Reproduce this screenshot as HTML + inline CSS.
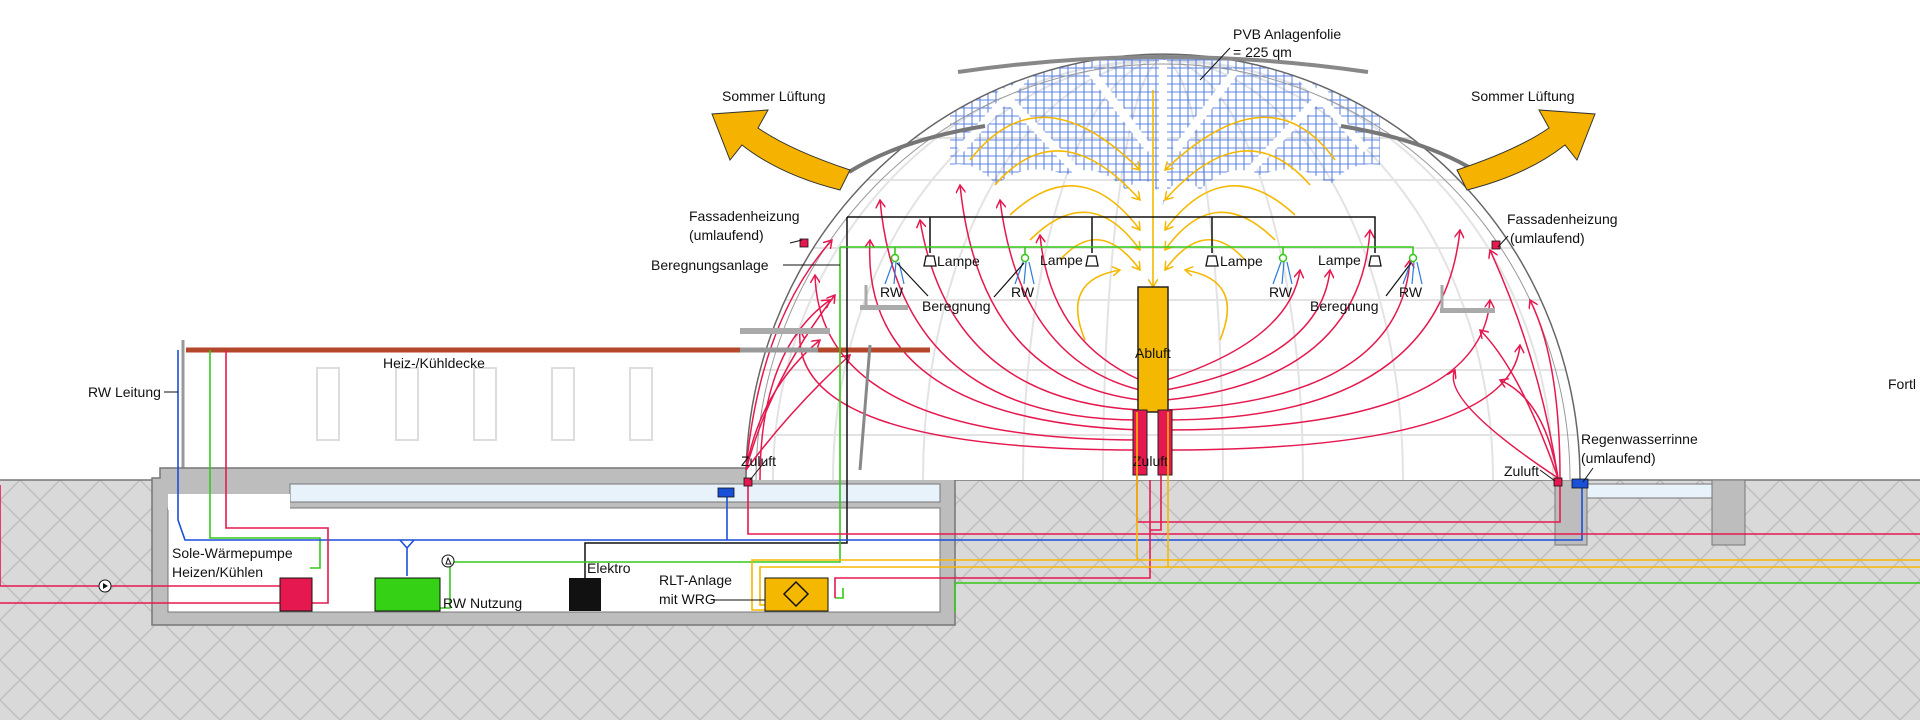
<!DOCTYPE html>
<html><head><meta charset="utf-8"><style>
html,body{margin:0;padding:0;background:#fff;width:1920px;height:720px;overflow:hidden}
svg{display:block;overflow:hidden}
text{font-family:"Liberation Sans",sans-serif;font-size:14px;fill:#111}
</style></head><body>
<svg width="1920" height="720" viewBox="0 0 1920 720" xmlns="http://www.w3.org/2000/svg">
<defs>
<pattern id="hatch" width="40" height="40" patternUnits="userSpaceOnUse">
<rect width="40" height="40" fill="#d9d9d9"/>
<path d="M0 20 L20 0 M20 40 L40 20 M0 20 L20 40 M20 0 L40 20" stroke="#bdbdbd" stroke-width="1.3" fill="none"/>
</pattern>
<pattern id="grid" width="8" height="8" patternUnits="userSpaceOnUse">
<path d="M0 4H8M4 0V8" stroke="#2a5bd8" stroke-width="1.1"/>
</pattern>
<marker id="ar" markerWidth="10" markerHeight="10" refX="8" refY="5" orient="auto" markerUnits="userSpaceOnUse"><path d="M0 0L8 5L0 10" fill="none" stroke="#e5194f" stroke-width="1.5"/></marker>
<marker id="ay" markerWidth="10" markerHeight="10" refX="8" refY="5" orient="auto" markerUnits="userSpaceOnUse"><path d="M0 0L8 5L0 10" fill="none" stroke="#f5b800" stroke-width="1.5"/></marker>
<clipPath id="domeclip"><path d="M746 480 A417 426 0 0 1 1580 480 Z"/></clipPath>
</defs>

<rect x="0" y="480" width="1920" height="240" fill="url(#hatch)"/>
<line x1="0" y1="480" x2="1920" y2="480" stroke="#777" stroke-width="1.5"/>

<rect x="183" y="342" width="747" height="126" fill="#fff"/>
<line x1="183" y1="340" x2="183" y2="470" stroke="#999" stroke-width="3"/>
<g fill="none" stroke="#ddd" stroke-width="2">
<rect x="317" y="368" width="22" height="72"/><rect x="396" y="368" width="22" height="72"/>
<rect x="474" y="368" width="22" height="72"/><rect x="552" y="368" width="22" height="72"/>
<rect x="630" y="368" width="22" height="72"/>
</g>

<path d="M152 478 H160 V468 H940 V478 H955 V625 H152 Z" fill="#bdbdbd" stroke="#777" stroke-width="1.5"/>
<rect x="168" y="494" width="122" height="14" fill="#fff"/>
<rect x="290" y="484" width="650" height="18" fill="#e8f2fb" stroke="#777"/>
<rect x="168" y="508" width="772" height="104" fill="#fff" stroke="#777"/>
<rect x="168" y="494" width="122" height="16" fill="#fff"/>

<rect x="1555" y="480" width="32" height="65" fill="#bdbdbd" stroke="#777"/>
<rect x="1587" y="484" width="125" height="14" fill="#e8f2fb" stroke="#777"/>
<rect x="1712" y="480" width="33" height="65" fill="#bdbdbd" stroke="#777"/>

<path d="M746 480 A417 426 0 0 1 1580 480 Z" fill="#fff"/>
<g clip-path="url(#domeclip)" fill="none" stroke="#e3e3e3" stroke-width="2">
<line x1="700" y1="138" x2="1660" y2="138"/><line x1="700" y1="180" x2="1660" y2="180"/>
<line x1="700" y1="248" x2="1660" y2="248"/><line x1="700" y1="300" x2="1660" y2="300"/>
<line x1="700" y1="370" x2="1660" y2="370"/><line x1="700" y1="435" x2="1660" y2="435"/>
<ellipse cx="1163" cy="480" rx="330" ry="420"/><ellipse cx="1163" cy="480" rx="240" ry="420"/>
<ellipse cx="1163" cy="480" rx="140" ry="420"/><ellipse cx="1163" cy="480" rx="60" ry="420"/>
<ellipse cx="1163" cy="480" rx="390" ry="420"/>
</g>
<g clip-path="url(#domeclip)">
<path d="M950 40 H1380 V165 Q1350 160 1330 185 Q1300 160 1260 175 Q1230 160 1200 190 Q1175 165 1163 205 Q1150 165 1126 190 Q1096 160 1066 175 Q1026 160 996 185 Q976 160 950 165 Z" fill="url(#grid)" opacity="0.75"/>
<g stroke="#fff" stroke-width="8" fill="none">
<path d="M1000 90 L1080 175 M1090 70 L1150 150 M1326 90 L1246 175 M1236 70 L1176 150"/>
<path d="M1163 60 V200 M1040 60 L960 150 M1286 60 L1366 150"/>
</g>
</g>
<path d="M746 480 A417 426 0 0 1 1580 480" fill="none" stroke="#666" stroke-width="1.5"/>
<path d="M756 480 A407 416 0 0 1 1570 480" fill="none" stroke="#999" stroke-width="1"/>
<path d="M958 72 Q1163 42 1368 72" fill="none" stroke="#888" stroke-width="4"/>
<path d="M849 172 Q900 140 985 126" fill="none" stroke="#777" stroke-width="4"/>
<path d="M1341 126 Q1426 140 1477 172" fill="none" stroke="#777" stroke-width="4"/>

<path d="M850 170 Q790 150 758 128 L768 110 L712 114 L730 160 L742 145 Q780 175 840 190 Z" fill="#f5b300" stroke="#333" stroke-width="1"/>
<path d="M1457 170 Q1517 150 1549 128 L1539 110 L1595 114 L1577 160 L1565 145 Q1527 175 1467 190 Z" fill="#f5b300" stroke="#333" stroke-width="1"/>
<text x="722" y="101">Sommer Lüftung</text>
<text x="1471" y="101">Sommer Lüftung</text>

<g fill="none" stroke="#f5b800" stroke-width="1.6" marker-end="url(#ay)">
<path d="M1153 90 V287"/>
<path d="M970 160 Q1040 70 1140 170"/><path d="M1335 160 Q1270 70 1165 170"/>
<path d="M995 185 Q1060 110 1140 200"/><path d="M1310 185 Q1245 110 1165 200"/>
<path d="M1010 215 Q1080 150 1140 230"/><path d="M1295 215 Q1225 150 1165 230"/>
<path d="M1030 240 Q1090 180 1140 250"/><path d="M1275 240 Q1215 180 1165 250"/>
<path d="M1060 260 Q1100 215 1140 270"/><path d="M1245 260 Q1205 215 1165 270"/>
<path d="M1085 340 Q1060 280 1120 270"/><path d="M1220 340 Q1245 280 1185 270"/>
</g>

<g fill="none" stroke="#e5194f" stroke-width="1.5" marker-end="url(#ar)">
<path d="M746 470 Q760 320 832 240"/><path d="M746 470 Q770 380 835 295"/>
<path d="M746 470 Q790 410 850 355"/><path d="M746 470 Q760 390 820 340"/>
<path d="M760 480 Q760 350 830 300"/>
<path d="M1140 420 Q900 420 880 200"/><path d="M1140 430 Q860 420 870 240"/>
<path d="M1140 410 Q950 400 920 220"/><path d="M1140 400 Q980 380 960 185"/>
<path d="M1140 390 Q1020 360 1000 200"/><path d="M1140 380 Q1050 340 1040 235"/>
<path d="M1140 440 Q820 440 815 275"/><path d="M1140 450 Q790 450 800 330"/>
<path d="M1166 420 Q1440 420 1460 230"/><path d="M1166 430 Q1480 430 1490 300"/>
<path d="M1166 410 Q1400 400 1410 260"/><path d="M1166 400 Q1360 380 1370 230"/>
<path d="M1166 390 Q1320 360 1330 270"/><path d="M1166 380 Q1290 340 1300 270"/>
<path d="M1166 450 Q1510 450 1520 345"/>
<path d="M1558 478 Q1520 370 1480 330"/><path d="M1558 478 Q1545 400 1500 380"/>
<path d="M1558 478 Q1540 360 1490 250"/><path d="M1560 478 Q1560 360 1530 300"/>
<path d="M1558 478 Q1440 400 1455 370"/>
</g>

<line x1="186" y1="350" x2="930" y2="350" stroke="#b4462a" stroke-width="5"/>
<line x1="740" y1="350" x2="818" y2="350" stroke="#999" stroke-width="5"/>
<text x="383" y="368">Heiz-/Kühldecke</text>

<rect x="1138" y="287" width="30" height="125" fill="#f5b800" stroke="#222" stroke-width="1.5"/>
<rect x="1133" y="410" width="14" height="65" fill="#e5194f" stroke="#222"/>
<rect x="1158" y="410" width="14" height="65" fill="#e5194f" stroke="#222"/>
<text x="1135" y="358" font-size="13">Abluft</text>
<text x="1133" y="466" font-size="13">Zuluft</text>

<g fill="none" stroke="#111" stroke-width="1.5">
<path d="M847 217 H1375 V253"/>
<path d="M847 217 V543 H585 V582"/>
<path d="M930 217 V253"/><path d="M1092 217 V253"/><path d="M1212 217 V253"/>
</g>
<g fill="#fff" stroke="#111" stroke-width="1.3">
<path d="M926 256 h8 l2 10 h-12 z"/><path d="M1088 256 h8 l2 10 h-12 z"/>
<path d="M1208 256 h8 l2 10 h-12 z"/><path d="M1371 256 h8 l2 10 h-12 z"/>
</g>
<text x="937" y="266">Lampe</text><text x="1040" y="265">Lampe</text>
<text x="1220" y="266">Lampe</text><text x="1318" y="265">Lampe</text>

<g fill="none" stroke="#35c81a" stroke-width="1.6">
<path d="M840 247 H1413 V255"/><path d="M840 247 V562 H450 V608 H437"/>
<path d="M895 247 V255"/><path d="M1025 247 V255"/><path d="M1283 247 V255"/>
<path d="M210 350 V538 H320 V568 H310"/>
<path d="M955 612 V583 H1920"/><path d="M843 588 V598 H835"/>
</g>
<g fill="none" stroke="#2a7bd8" stroke-width="1.2">
<path d="M893 262 l-8 22 M896 262 l-2 22 M899 262 l5 22"/>
<path d="M1023 262 l-8 22 M1026 262 l-2 22 M1029 262 l5 22"/>
<path d="M1281 262 l-8 22 M1284 262 l-2 22 M1287 262 l5 22"/>
<path d="M1411 262 l-8 22 M1414 262 l-2 22 M1417 262 l5 22"/>
</g>
<g fill="#fff" stroke="#35c81a" stroke-width="1.5">
<circle cx="895" cy="258" r="3.5"/><circle cx="1025" cy="258" r="3.5"/><circle cx="1283" cy="258" r="3.5"/><circle cx="1413" cy="258" r="3.5"/>
</g>
<text x="880" y="297">RW</text><text x="1011" y="297">RW</text><text x="1269" y="297">RW</text><text x="1399" y="297">RW</text>
<text x="922" y="311">Beregnung</text><text x="1310" y="311">Beregnung</text>
<g stroke="#111" stroke-width="1.2"><path d="M897 263 L928 296"/><path d="M1024 263 L994 297"/><path d="M1411 263 L1386 296"/></g>

<rect x="740" y="328" width="90" height="6" fill="#aaa"/>
<rect x="1440" y="308" width="55" height="5" fill="#aaa"/>
<rect x="860" y="305" width="48" height="5" fill="#aaa"/>
<line x1="866" y1="285" x2="866" y2="310" stroke="#aaa" stroke-width="3"/>
<line x1="1442" y1="285" x2="1442" y2="310" stroke="#aaa" stroke-width="3"/>
<line x1="870" y1="345" x2="860" y2="470" stroke="#888" stroke-width="3"/>

<g fill="none" stroke="#1a4fd8" stroke-width="1.6">
<path d="M178 350 V520 L185 540 H1582 V482"/>
<path d="M400 540 L407 548 V576"/><path d="M414 540 L407 548"/>
<path d="M727 495 V540"/>
</g>
<rect x="718" y="488" width="16" height="9" fill="#1a4fd8" stroke="#111" stroke-width="0.8"/>
<rect x="1572" y="479" width="16" height="9" fill="#1a4fd8" stroke="#111" stroke-width="0.8"/>
<text x="88" y="397">RW Leitung</text><path d="M164 392 H178" stroke="#111"/>

<g fill="none" stroke="#e5194f" stroke-width="1.6">
<path d="M0 485 V586 H280"/><path d="M0 603 H280"/>
<path d="M226 350 V528 H328 V603 H310"/>
<path d="M748 485 V534 H1920"/>
<path d="M1137 475 V522 H1560 V480"/>
<path d="M1161 475 V530 H1150"/>
<path d="M835 598 V578 H1150 V480"/>
</g>
<rect x="744" y="478" width="8" height="8" fill="#e5194f" stroke="#111" stroke-width="0.8"/>
<rect x="1554" y="478" width="8" height="8" fill="#e5194f" stroke="#111" stroke-width="0.8"/>
<rect x="800" y="239" width="8" height="8" fill="#e5194f" stroke="#111" stroke-width="0.8"/>
<rect x="1492" y="241" width="8" height="8" fill="#e5194f" stroke="#111" stroke-width="0.8"/>

<g fill="none" stroke="#f5b800" stroke-width="1.6">
<path d="M752 600 V560 H1920"/><path d="M760 600 V567 H1920"/>
<path d="M752 600 V610 H765 M760 600 V605 H765"/>
<path d="M1137 412 V560"/><path d="M1168 412 V567"/>
</g>

<rect x="280" y="578" width="32" height="33" fill="#e5194f" stroke="#111"/>
<rect x="375" y="578" width="65" height="33" fill="#35d114" stroke="#111"/>
<rect x="569" y="578" width="32" height="33" fill="#111"/>
<rect x="765" y="578" width="63" height="33" fill="#f5b800" stroke="#111"/>
<path d="M796 582 L808 594 L796 606 L784 594 Z" fill="none" stroke="#111" stroke-width="1.5"/>
<circle cx="105" cy="586" r="6" fill="#fff" stroke="#111"/><path d="M103 583 L108 586 L103 589Z" fill="#111"/>
<circle cx="448" cy="561" r="6" fill="#fff" stroke="#111"/><path d="M446 564 L448 558 L451 564Z" fill="none" stroke="#111"/>

<text x="172" y="558">Sole-Wärmepumpe</text><text x="172" y="577">Heizen/Kühlen</text>
<text x="443" y="608">RW Nutzung</text>
<text x="587" y="573">Elektro</text>
<text x="659" y="585">RLT-Anlage</text><text x="659" y="604">mit WRG</text>
<path d="M713 600 H765" stroke="#111"/>

<text x="741" y="466">Zuluft</text>
<path d="M766 460 L750 480" stroke="#111"/>
<text x="1504" y="476">Zuluft</text><path d="M1540 470 L1555 481" stroke="#111"/>
<text x="1581" y="444">Regenwasserrinne</text><text x="1581" y="463">(umlaufend)</text>
<path d="M1593 468 L1583 482" stroke="#111"/>
<text x="1888" y="389">Fortl</text>
<text x="689" y="221">Fassadenheizung</text><text x="689" y="240">(umlaufend)</text>
<path d="M790 243 L802 240" stroke="#111"/>
<text x="1507" y="224">Fassadenheizung</text><text x="1510" y="243">(umlaufend)</text>
<path d="M1498 247 L1508 236" stroke="#111"/>
<text x="651" y="270">Beregnungsanlage</text><path d="M783 265 H840" stroke="#111"/>
<text x="1233" y="39">PVB Anlagenfolie</text><text x="1233" y="57">= 225 qm</text>
<path d="M1230 48 L1200 80" stroke="#111"/>
</svg>
</body></html>
